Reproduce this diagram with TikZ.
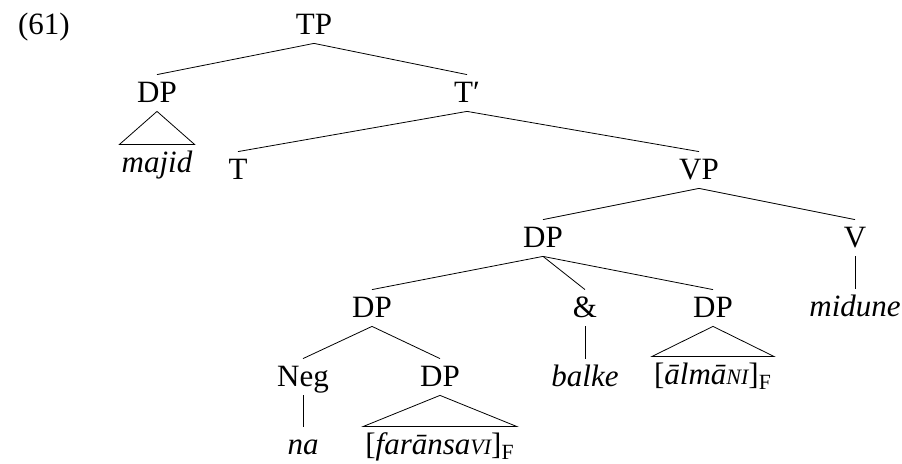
\documentclass[tikz,border=0pt]{standalone}
\usepackage{fontspec}
\setmainfont{Liberation Serif}
\newcommand{\smcap}[1]{{\fontsize{11}{12}\selectfont #1}}
\newcommand{\foc}{\textsubscript{\upshape F}}

\begin{document}
\begin{tikzpicture}[x=0.5pt,y=-0.5pt,
        font=\fontsize{15.5}{18}\selectfont,
        cat/.style={anchor=base,inner xsep=1pt,inner ysep=4pt,text height=10pt,text depth=0pt},
        word/.style={cat,font=\fontsize{15.5}{18}\selectfont\itshape}]
    \useasboundingbox (0,0) rectangle (902,464);

    \node[anchor=base west] (ex) at (11,35) {(61)};

    \node[cat] (tp)     at (314,35)  {TP};
    \node[cat] (dp1)    at (157,103) {DP};
    \node[cat] (tbar)   at (467,103) {T′};
    \node[word] (majid) at (157,173) {majid};
    \node[cat] (t)      at (238,180) {T};
    \node[cat] (vp)     at (699,180) {VP};
    \node[cat] (dp2)    at (543,248) {DP};
    \node[cat] (v)      at (855,248) {V};
    \node[cat] (dp3)    at (372,318) {DP};
    \node[cat] (conj)   at (585,318) {\&};
    \node[cat] (dp4)    at (713,318) {DP};
    \node[word] (midune) at (855,317) {midune};
    \node[cat] (neg)    at (303,387) {Neg};
    \node[cat] (dp5)    at (440,387) {DP};
    \node[word] (balke) at (585,387) {balke};
    \node[word] (alman) at (713,385) {\upshape[\itshape ālmā\smcap{NI}\upshape]\foc};
    \node[word] (na)    at (303,455) {na};
    \node[word] (faransa) at (440,455) {\upshape[\itshape farānsa\smcap{VI}\upshape]\foc};

    \path
    (tp.south) edge (dp1.north)
               edge (tbar.north)
    (tbar.south) edge (t.north)
                 edge (vp.north)
    (vp.south) edge (dp2.north)
               edge (v.north)
    (v.south) edge (midune.north)
    (dp2.south) edge (dp3.north)
                edge (conj.north)
                edge (dp4.north)
    (conj.south) edge (balke.north)
    (dp3.south) edge (neg.north)
                edge (dp5.north)
    (neg.south) edge (na.north);

    % triangles
    \draw (dp1.south) -- (majid.north west) -- (majid.north east) -- cycle;
    \draw (dp4.south) -- (alman.north west) -- (alman.north east) -- cycle;
    \draw (dp5.south) -- (faransa.north west) -- (faransa.north east) -- cycle;
\end{tikzpicture}
\end{document}
